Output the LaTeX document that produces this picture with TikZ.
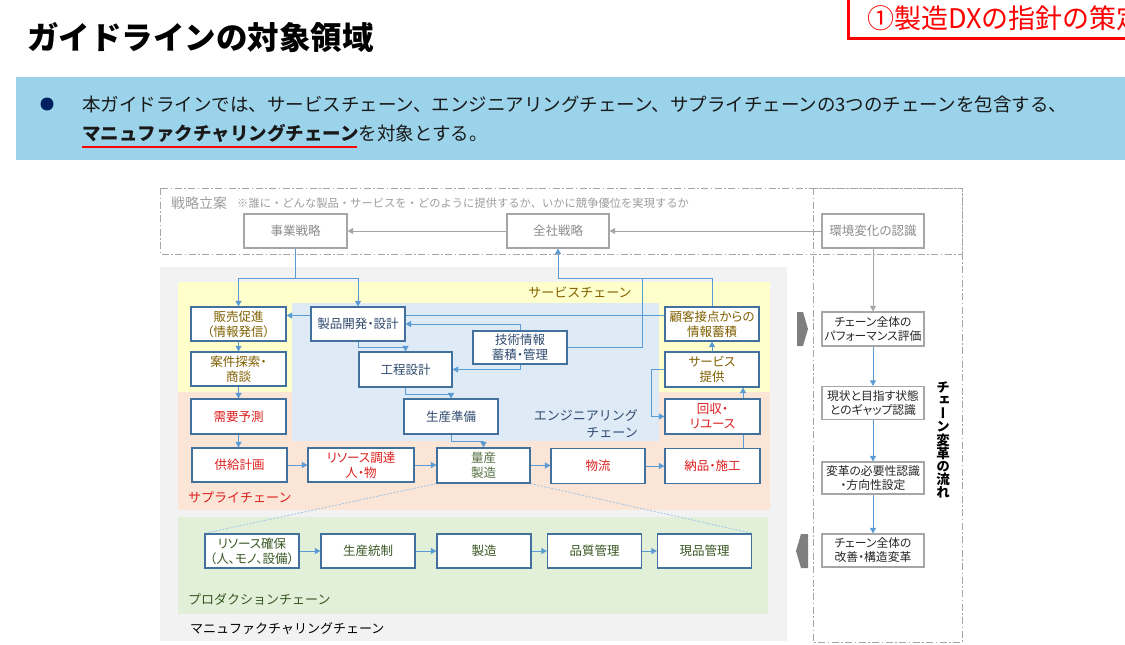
\documentclass[tikz,border=0pt]{standalone}
\usepackage{fontspec}
\setmainfont{Noto Sans CJK JP}
\newfontfamily\paltfont{Noto Sans CJK JP}[RawFeature=+palt]
\newfontfamily\vertfont{Noto Sans CJK JP}[RawFeature=+vert]
\usetikzlibrary{arrows.meta,calc}
\pgfdeclarelayer{back}
\pgfdeclarelayer{mid}
\pgfsetlayers{back,mid,main}
\definecolor{boxc}{HTML}{41719C}
\definecolor{conn}{HTML}{5B9BD5}
\definecolor{dotc}{HTML}{9DC3E6}
\definecolor{grayb}{HTML}{A6A6A6}
\definecolor{grayt}{HTML}{8C8C8C}
\definecolor{gold}{HTML}{7F6000}
\definecolor{engt}{HTML}{2F4A6E}
\definecolor{redt}{HTML}{DD1F1F}
\definecolor{prodt}{HTML}{385723}
\definecolor{bannerc}{HTML}{9BD3EA}
\definecolor{navy}{HTML}{002060}
\definecolor{bgg}{HTML}{F2F2F2}
\definecolor{yel}{HTML}{FFFFCC}
\definecolor{sal}{HTML}{FBE5D6}
\definecolor{engb}{HTML}{DEEBF7}
\definecolor{grn}{HTML}{E2F0D9}
\definecolor{chev}{HTML}{7F7F7F}
\begin{document}
\begin{tikzpicture}[x=1pt,y=-1pt,
  bx/.style={draw=boxc, line width=1.2pt, fill=white, minimum width=94pt, minimum height=34pt, inner sep=0pt, align=center, font=\paltfont\fontsize{12.5}{15}\selectfont},
  gbx/.style={draw=grayb, line width=1.2pt, fill=white, minimum width=102pt, minimum height=34pt, inner sep=0pt, align=center, text=grayt, font=\paltfont\fontsize{12.5}{15}\selectfont},
  rbx/.style={draw=grayb, line width=1.2pt, fill=white, minimum width=102pt, minimum height=33pt, inner sep=0pt, align=center, text=black!85, font=\paltfont\fontsize{11.8}{14}\selectfont},
  arr/.style={draw=conn, line width=0.9pt, -{Triangle[length=5.5pt,width=6pt]}},
  ln/.style={draw=conn, line width=0.9pt},
  garr/.style={draw=grayb, line width=0.9pt, -{Triangle[length=5.5pt,width=6pt]}},
  dotl/.style={draw=dotc, line width=0.8pt, dash pattern=on 2pt off 1.5pt},
  dd/.style={draw=grayb, line width=1pt, dash pattern=on 7pt off 2.5pt on 1.5pt off 2.5pt},
  lab/.style={font=\fontsize{13}{17}\selectfont, inner sep=0pt}
]
\useasboundingbox (0,0) rectangle (1125,645);
% title
\node[anchor=west, inner sep=0pt, font=\fontsize{31.5}{36}\selectfont\bfseries] (title) at (27,38) {ガイドラインの対象領域};
\begin{scope}
\clip (0,0) rectangle (1125,645);
\draw[red, line width=3pt, fill=white] (848,-10) rectangle (1140,38);
\node[anchor=west, inner sep=0pt, text=red, font=\fontsize{27}{32}\selectfont] (tag) at (867,18) {①製造DXの指針の策定};
\end{scope}
% banner
\fill[bannerc] (16,77) rectangle (1125,160);
\fill[navy] (47,104) circle (6.5);
\node[anchor=west, inner sep=0pt, text=black!90, font=\fontsize{18.5}{22}\selectfont] (b1) at (82,104) {本ガイドラインでは、サービスチェーン、エンジニアリングチェーン、サプライチェーンの3つのチェーンを包含する、};
\node[anchor=west, inner sep=0pt, text=black!90, font=\fontsize{18.5}{22}\selectfont] (b2) at (82,133) {{\bfseries マニュファクチャリングチェーン}を対象とする。};
\draw[red, line width=1.8pt] (82,147) -- (357,147);

% regions
\begin{pgfonlayer}{back}
\fill[bgg] (160,267) rectangle (787,641);
\fill[yel] (178,282) rectangle (770,392);
\fill[sal] (178,392) rectangle (770,510);
\fill[engb] (292,303) rectangle (659,441);
\fill[grn] (178,517) rectangle (768,614);
\end{pgfonlayer}
\draw[dd] (160,188) rectangle (962,254);
\draw[dd] (813,188) rectangle (962,642);

% labels
\node[anchor=west, inner sep=0pt, text=grayt!85, font=\fontsize{14}{17}\selectfont] (senryaku) at (171,203) {戦略立案};
\node[anchor=west, inner sep=0pt, text=grayt!85, font=\fontsize{11.3}{14}\selectfont] (note) at (237,203) {※誰に・どんな製品・サービスを・どのように提供するか、いかに競争優位を実現するか};
\node[lab, text=gold] (svlab) at (580,292) {サービスチェーン};
\node[lab, text=engt, align=right, anchor=east] (englab) at (638,424) {エンジニアリング\\チェーン};
\node[lab, text=redt, anchor=west] (splab) at (188,497) {サプライチェーン};
\node[lab, text=prodt, anchor=west] (prlab) at (188,599) {プロダクションチェーン};
\node[lab, text=black, anchor=west] (mflab) at (190,629) {マニュファクチャリングチェーン};
\node[inner sep=0pt, align=center, font=\vertfont\fontsize{13.5}{13.2}\selectfont\bfseries] (vlab) at (943,440) {チ\\ェ\\ー\\ン\\変\\革\\の\\流\\れ};

% strategy boxes
\node[gbx, minimum width=103pt] (jigyo) at (295.5,231) {事業戦略};
\node[gbx] (zensha) at (558,231) {全社戦略};
\node[gbx] (kankyo) at (873,231) {環境変化の認識};

% chain boxes
\node[bx, minimum width=95pt, text=gold] (hanbai) at (238.5,324) {販売促進\\（情報発信）};
\node[bx, text=engt] (seihin) at (358,324) {製品開発・設計};
\node[bx, minimum width=95pt, text=gold] (anken) at (238.5,369) {案件探索・\\商談};
\node[bx, minimum height=33pt, text=engt] (gijutsu) at (520,347.5) {技術情報\\蓄積・管理};
\node[bx, minimum width=93pt, minimum height=35pt, text=engt] (kotei) at (405.5,369.5) {工程設計};
\node[bx, minimum height=35pt, text=engt] (junbi) at (451,416.5) {生産準備};
\node[bx, minimum width=95pt, minimum height=35pt, text=redt] (juyo) at (238.5,416.5) {需要予測};
\node[bx, minimum width=95pt, text=redt] (kyokyu) at (239.5,465) {供給計画};
\node[bx, minimum width=106pt, text=redt] (resource) at (361,465) {リソース調達\\人・物};
\node[bx, minimum width=93pt, minimum height=35pt, text=prodt!85] (ryosan) at (483.5,465.5) {量産\\製造};
\node[bx, minimum height=35pt, text=redt] (butsuryu) at (598,466) {物流};
\node[bx, minimum width=95pt, minimum height=35pt, text=redt] (nohin) at (712.5,466) {納品・施工};
\node[bx, minimum width=95pt, minimum height=35pt, text=redt] (kaishu) at (712.5,416.5) {回収・\\リユース};
\node[bx, minimum height=35pt, text=gold] (service) at (712,369.5) {サービス\\提供};
\node[bx, text=gold] (kokyaku) at (712,324) {顧客接点からの\\情報蓄積};

% production boxes
\node[bx, text=prodt] (kakuho) at (252,551) {リソース確保\\（人、モノ、設備）};
\node[bx, text=prodt] (tosei) at (368,551) {生産統制};
\node[bx, text=prodt] (seizo) at (484,551) {製造};
\node[bx, text=prodt] (hinshitsu) at (594.5,551) {品質管理};
\node[bx, text=prodt] (genpin) at (704.5,551) {現品管理};

% right column
\node[rbx, minimum height=34pt] (perf) at (873,329) {チェーン全体の\\パフォーマンス評価};
\node[rbx] (gap) at (873,403) {現状と目指す状態\\とのギャップ認識};
\node[rbx, minimum height=32pt] (need) at (873,478) {変革の必要性認識\\・方向性設定};
\node[rbx] (kaizen) at (873,550.5) {チェーン全体の\\改善・構造変革};

% chevrons
\fill[chev] (797,312) -- (803,312) -- (808,329) -- (803,346) -- (797,346) -- cycle;
\fill[chev] (808,534) -- (801,534) -- (796,551) -- (801,568) -- (808,568) -- cycle;

% connectors
\begin{pgfonlayer}{mid}
\draw[garr] (kankyo.west) -- (zensha.east);
\draw[garr] (zensha.west) -- (jigyo.east);
\draw[garr] (kankyo.south) -- (perf.north);
\coordinate (j1) at (jigyo.south |- 0,278);
\draw[ln] (jigyo.south) -- (j1);
\draw[arr] (j1) -| (hanbai.north);
\draw[arr] (j1) -| (seihin.north);
\draw[arr] ([yshift=8.5pt]kokyaku.west) -- ([yshift=8.5pt]hanbai.east);
\draw[arr] (kokyaku.north) |- (zensha.south |- 0,278) -- (zensha.south);
\draw[ln] (gijutsu.east) -| (642,278);
\draw[arr] (gijutsu.north) |- (seihin.east);
\draw[arr] (gijutsu.south) |- (kotei.east);
\draw[arr] (seihin.south) -- ++(0,6) -| (kotei.north);
\draw[arr] (kotei.south) -- ++(0,7) -| (junbi.north);
\draw[arr] (junbi.south) -- ++(0,7) -| (ryosan.north);
\draw[arr] (hanbai.south) -- (anken.north);
\draw[arr] (anken.south) -- (juyo.north);
\draw[arr] (juyo.south) -- (juyo.south |- kyokyu.north);
\draw[arr] (kyokyu.east) -- (resource.east -| resource.west);
\draw[arr] (resource.east) -- (resource.east -| ryosan.west);
\draw[arr] (ryosan.east) -- (ryosan.east -| butsuryu.west);
\draw[arr] (butsuryu.east) -- (butsuryu.east -| nohin.west);
\draw[arr] ([xshift=30.5pt]nohin.north) -- ([xshift=30.5pt]nohin.north |- service.south);
\draw[arr] (service.north) -- (kokyaku.south);
\draw[arr] (service.west) -- ++(-13,0) |- (kaishu.west);
\draw[dotl] (ryosan.south west) -- (kakuho.north west);
\draw[dotl] (ryosan.south east) -- (genpin.north east);
\draw[arr] (kakuho) -- (tosei);
\draw[arr] (tosei) -- (seizo);
\draw[arr] (seizo) -- (hinshitsu);
\draw[arr] (hinshitsu) -- (genpin);
\draw[arr] (perf) -- (gap);
\draw[arr] (gap) -- (need);
\draw[arr] (need) -- (kaizen);
\end{pgfonlayer}
\end{tikzpicture}
\end{document}
